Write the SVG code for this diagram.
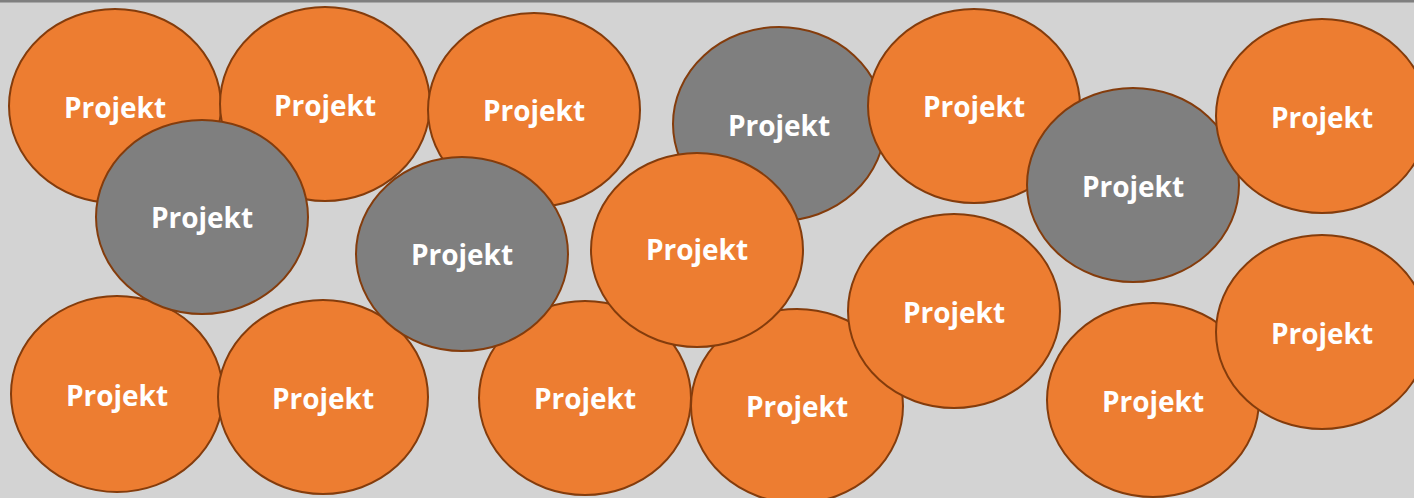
<svg xmlns="http://www.w3.org/2000/svg" width="1414" height="498" viewBox="0 0 1414 498">
<style>
.o{fill:#ED7D31;stroke:#843C0C;stroke-width:2}
.g{fill:#7F7F7F;stroke:#843C0C;stroke-width:2}
text{font-family:"Open Sans","Noto Sans",sans-serif;font-weight:700;font-size:28px;fill:#FFFFFF;text-anchor:middle}
</style>
<rect x="0" y="0" width="1414" height="498" fill="#D3D3D3"/>
<rect x="0" y="0" width="1414" height="2.5" fill="#7F7F7F"/>
<g id="n1"><ellipse class="o" cx="115" cy="106" rx="106" ry="97"/><text x="115" y="118">Projekt</text></g>
<g id="n2"><ellipse class="o" cx="325" cy="104" rx="105" ry="97"/><text x="325" y="116">Projekt</text></g>
<g id="n3"><ellipse class="o" cx="534" cy="110" rx="106" ry="97"/><text x="534" y="121">Projekt</text></g>
<g id="n4"><ellipse class="g" cx="779" cy="124" rx="106" ry="97"/><text x="779" y="136">Projekt</text></g>
<g id="n5"><ellipse class="o" cx="974" cy="106" rx="106" ry="97"/><text x="974" y="117">Projekt</text></g>
<g id="n6"><ellipse class="g" cx="1133" cy="185" rx="106" ry="97"/><text x="1133" y="197">Projekt</text></g>
<g id="n7"><ellipse class="o" cx="1322" cy="116" rx="106" ry="97"/><text x="1322" y="128">Projekt</text></g>
<g id="n12"><ellipse class="o" cx="117" cy="394" rx="106" ry="98"/><text x="117" y="406">Projekt</text></g>
<g id="n13"><ellipse class="o" cx="323" cy="397" rx="105" ry="97"/><text x="323" y="409">Projekt</text></g>
<g id="n8"><ellipse class="g" cx="202" cy="217" rx="106" ry="97"/><text x="202" y="228">Projekt</text></g>
<g id="n14"><ellipse class="o" cx="585" cy="398" rx="106" ry="97"/><text x="585" y="409">Projekt</text></g>
<g id="n9"><ellipse class="g" cx="462" cy="254" rx="106" ry="97"/><text x="462" y="265">Projekt</text></g>
<g id="n15"><ellipse class="o" cx="797" cy="406" rx="106" ry="97"/><text x="797" y="417">Projekt</text></g>
<g id="n11"><ellipse class="o" cx="954" cy="311" rx="106" ry="97"/><text x="954" y="323">Projekt</text></g>
<g id="n10"><ellipse class="o" cx="697" cy="250" rx="106" ry="97"/><text x="697" y="260">Projekt</text></g>
<g id="n16"><ellipse class="o" cx="1153" cy="400" rx="106" ry="97"/><text x="1153" y="412">Projekt</text></g>
<g id="n17"><ellipse class="o" cx="1322" cy="332" rx="106" ry="97"/><text x="1322" y="344">Projekt</text></g>
<g id="connectors"></g>
</svg>
